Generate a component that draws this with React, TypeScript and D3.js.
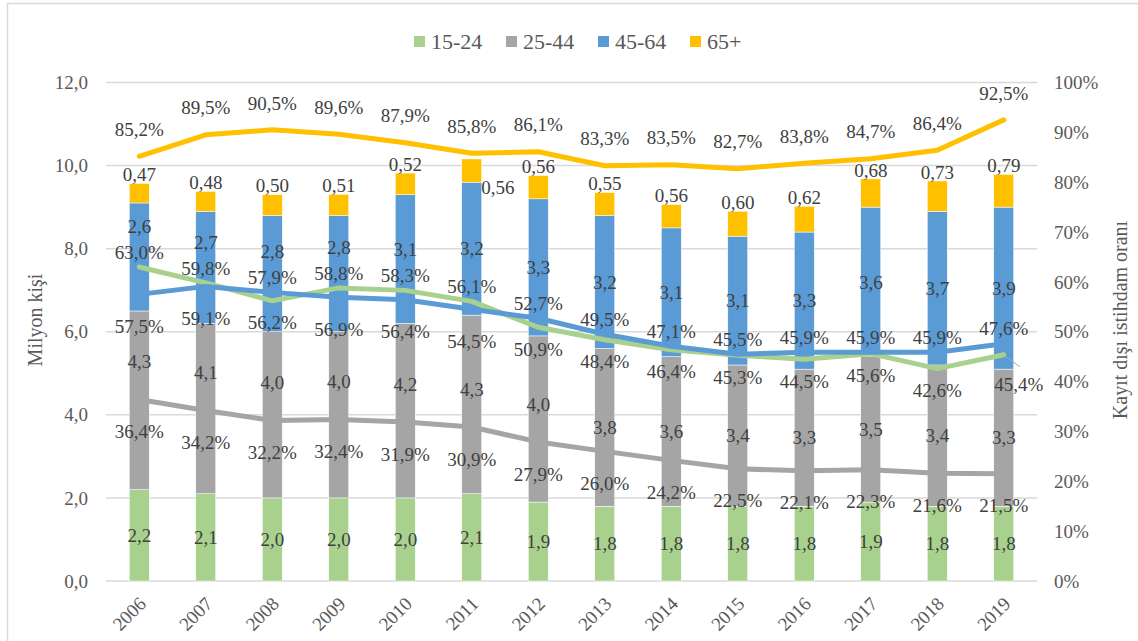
import React from 'react';
import * as d3 from 'd3';

// Informal employment by age group, 2006-2019
const years = ['2006', '2007', '2008', '2009', '2010', '2011', '2012', '2013', '2014', '2015', '2016', '2017', '2018', '2019'];
const ageGroups = ['15-24', '25-44', '45-64', '65+'];

// employed persons (million) - stacked bars
const employed1524 = [2.2, 2.1, 2.0, 2.0, 2.0, 2.1, 1.9, 1.8, 1.8, 1.8, 1.8, 1.9, 1.8, 1.8];
const employed2544 = [4.3, 4.1, 4.0, 4.0, 4.2, 4.3, 4.0, 3.8, 3.6, 3.4, 3.3, 3.5, 3.4, 3.3];
const employed4564 = [2.6, 2.7, 2.8, 2.8, 3.1, 3.2, 3.3, 3.2, 3.1, 3.1, 3.3, 3.6, 3.7, 3.9];
const employed65 = [0.47, 0.48, 0.50, 0.51, 0.52, 0.56, 0.56, 0.55, 0.56, 0.60, 0.62, 0.68, 0.73, 0.79];

// informal employment rate (%) - lines
const informal1524 = [63.0, 59.8, 56.2, 58.8, 58.3, 56.1, 50.9, 48.4, 46.4, 45.3, 44.5, 45.6, 42.6, 45.4];
const informal2544 = [36.4, 34.2, 32.2, 32.4, 31.9, 30.9, 27.9, 26.0, 24.2, 22.5, 22.1, 22.3, 21.6, 21.5];
const informal4564 = [57.5, 59.1, 57.9, 56.9, 56.4, 54.5, 52.7, 49.5, 47.1, 45.5, 45.9, 45.9, 45.9, 47.6];
const informal65 = [85.2, 89.5, 90.5, 89.6, 87.9, 85.8, 86.1, 83.3, 83.5, 82.7, 83.8, 84.7, 86.4, 92.5];

const leftTicks = [0, 2, 4, 6, 8, 10, 12];
const rightTicks = [0, 10, 20, 30, 40, 50, 60, 70, 80, 90, 100];

const colors = ['#A9D18E', '#A5A5A5', '#5B9BD5', '#FFC000'];
const font = "'Liberation Serif', 'DejaVu Serif', serif";
const labelColor = '#404040';
const axisColor = '#595959';

const W = 1138;
const H = 641;
const plot = { left: 106, right: 1037, top: 82.5, bottom: 581 };

const fmt = (v: number, d: number) => v.toFixed(d).replace('.', ',');

export default function App() {
  const employed = [employed1524, employed2544, employed4564, employed65];
  const informal = [informal1524, informal2544, informal4564, informal65];

  const rows = years.map((y, i) => {
    const r: any = { year: y };
    ageGroups.forEach((g, k) => (r[g] = employed[k][i]));
    return r;
  });
  const stacked = d3.stack().keys(ageGroups)(rows);

  const x = d3.scaleBand().domain(years).range([plot.left, plot.right]).paddingInner(0.7).paddingOuter(0.35);
  const yL = d3.scaleLinear().domain([0, 12]).range([plot.bottom, plot.top]);
  const yR = d3.scaleLinear().domain([0, 100]).range([plot.bottom, plot.top]);
  const cx = (y: string) => (x(y) as number) + x.bandwidth() / 2;

  const line = d3
    .line<number>()
    .x((_, i) => cx(years[i]))
    .y((d) => yR(d));

  const labels: any[] = [];
  const leaders: any[] = [];

  // bar segment labels
  stacked.forEach((s, k) => {
    s.forEach((d, i) => {
      const px = cx(years[i]);
      const y0 = yL(d[0]);
      const y1 = yL(d[1]);
      let lx = px;
      let ly = (y0 + y1) / 2;
      const v = employed[k][i];
      if (k === 1) {
        // keep the value clear of the 25-44 rate line
        const lineY = yR(informal2544[i]);
        if (lineY - ly < 24) ly = lineY - 38;
      }
      if (k === 2) {
        // keep clear of the upper 15-24 / 45-64 rate label
        const upper = Math.min(yR(informal1524[i]), yR(informal4564[i])) - 15;
        ly = Math.min(ly, upper - 26);
      }
      if (k === 3) {
        ly = y1 - 9;
        const lineY = yR(informal65[i]);
        if (Math.abs(ly - lineY) < 8) {
          lx = px + 26;
          ly = y0 + 5;
        }
      }
      labels.push({ x: lx, y: ly, text: fmt(v, k === 3 ? 2 : 1) });
    });
  });

  // line labels
  years.forEach((yr, i) => {
    const px = cx(yr);
    labels.push({ x: px, y: yR(informal65[i]) - 27, text: fmt(informal65[i], 1) + '%' });
    labels.push({ x: px, y: yR(informal2544[i]) + 32, text: fmt(informal2544[i], 1) + '%' });
    const gy = yR(informal1524[i]);
    const by = yR(informal4564[i]);
    const greenHigher = gy < by;
    labels.push({ x: px, y: by + (greenHigher ? 32 : -15), text: fmt(informal4564[i], 1) + '%' });
    if (!greenHigher && i === years.length - 1) {
      leaders.push({ x1: px + 1, y1: gy + 1, x2: px + 16, y2: gy + 12 });
      labels.push({ x: px + 15, y: gy + 30, text: fmt(informal1524[i], 1) + '%' });
    } else {
      labels.push({ x: px, y: gy + (greenHigher ? -15 : 22), text: fmt(informal1524[i], 1) + '%' });
    }
  });

  const txt = { fontFamily: font };

  return (
    <svg width={W} height={H} style={{ position: 'absolute', left: 0, top: 0, background: '#fff', fontFamily: font }}>
      <rect x={7.5} y={3.5} width={1200} height={700} fill="#fff" stroke="#D9D9D9" strokeWidth={1.5} />

      {/* grid */}
      {leftTicks.map((t) => (
        <line key={t} x1={plot.left} x2={plot.right} y1={yL(t)} y2={yL(t)} stroke="#D9D9D9" strokeWidth={1.5} />
      ))}

      {/* stacked bars */}
      {stacked.map((s, k) => (
        <g key={k} fill={colors[k]}>
          {s.map((d, i) => (
            <rect
              key={i}
              x={x(years[i])}
              y={yL(d[1])}
              width={x.bandwidth()}
              height={yL(d[0]) - yL(d[1])}
              stroke="#fff"
              strokeWidth={0.5}
            />
          ))}
        </g>
      ))}

      {/* rate lines */}
      {informal.map((vals, k) => (
        <path key={k} d={line(vals) || ''} fill="none" stroke={colors[k]} strokeWidth={5} strokeLinejoin="round" strokeLinecap="round" />
      ))}

      {leaders.map((l, i) => (
        <line key={i} {...l} stroke="#A5A5A5" strokeWidth={1} />
      ))}

      {/* data labels */}
      {labels.map((l, i) => (
        <text key={i} x={l.x} y={l.y} dy="0.35em" textAnchor="middle" fontSize={19} fill={labelColor} style={txt}>
          {l.text}
        </text>
      ))}

      {/* left axis */}
      {leftTicks.map((t) => (
        <text key={t} x={88} y={yL(t)} dy="0.35em" textAnchor="end" fontSize={19} fill={axisColor} style={txt}>
          {fmt(t, 1)}
        </text>
      ))}

      {/* right axis */}
      {rightTicks.map((t) => (
        <text key={t} x={1054} y={yR(t)} dy="0.35em" textAnchor="start" fontSize={19} fill={axisColor} style={txt}>
          {t + '%'}
        </text>
      ))}

      {/* x axis */}
      {years.map((yr) => (
        <text
          key={yr}
          transform={`translate(${cx(yr) + 8},${605}) rotate(-45)`}
          textAnchor="end"
          fontSize={19}
          fill={axisColor}
          style={txt}
        >
          {yr}
        </text>
      ))}

      {/* axis titles */}
      <text transform="translate(35,320) rotate(-90)" textAnchor="middle" dy="0.35em" fontSize={20} fill={axisColor} style={txt}>
        Milyon kişi
      </text>
      <text transform="translate(1120,320) rotate(-90)" textAnchor="middle" dy="0.35em" fontSize={20} fill={axisColor} style={txt}>
        Kayıt dışı istihdam oranı
      </text>

      {/* legend */}
      {ageGroups.map((g, k) => (
        <g key={g} transform={`translate(${414 + k * 92},36)`}>
          <rect width={11} height={11} fill={colors[k]} />
          <text x={17} y={13} fontSize={22} fill={axisColor} style={txt}>
            {g}
          </text>
        </g>
      ))}
    </svg>
  );
}
